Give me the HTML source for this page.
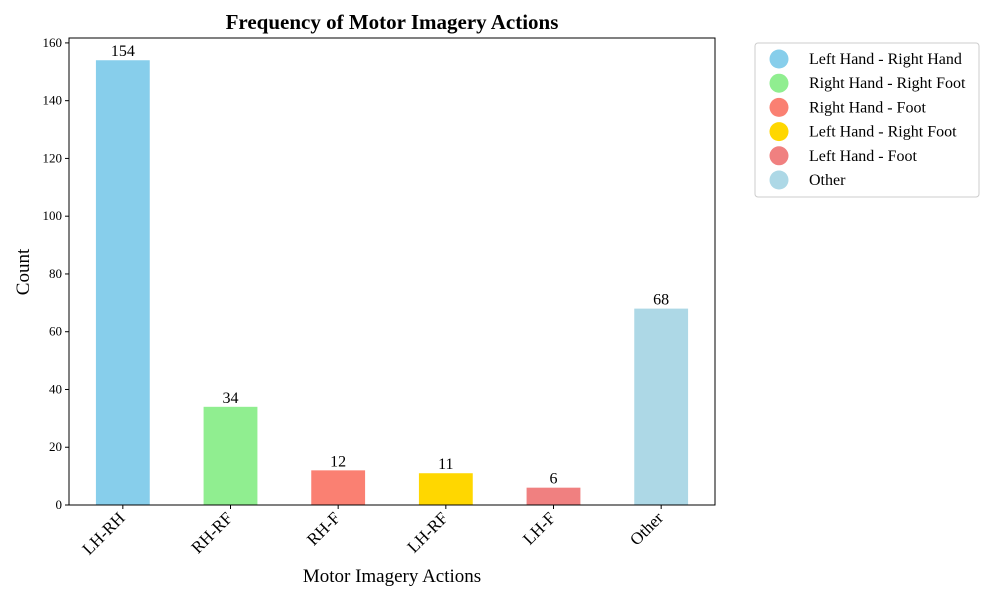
<!DOCTYPE html>
<html><head><meta charset="utf-8"><style>
body{margin:0;background:#fff;}
svg{font-family:"Liberation Serif",serif;}
</style></head><body>
<svg id="chart" width="1000" height="600" viewBox="0 0 1000 600">
<text x="392" y="29" font-size="21" font-weight="bold" text-anchor="middle">Frequency of Motor Imagery Actions</text>
<g id="bars"></g>
<g id="yticks"></g>
<g id="xticks"></g>
<rect x="69" y="38" width="646" height="467" fill="none" stroke="#000" stroke-width="1"/>
<text x="392" y="582" font-size="19" text-anchor="middle">Motor Imagery Actions</text>
<text transform="translate(29,272) rotate(-90)" font-size="19" text-anchor="middle">Count</text>
<g id="legend">
<rect x="755" y="43" width="224" height="154" rx="3" fill="#fff" stroke="#ccc"/>
</g>
</svg>
<script>
const categories=["LH-RH","RH-RF","RH-F","LH-RF","LH-F","Other"];
const counts=[154,34,12,11,6,68];
const legendLabels=["Left Hand - Right Hand","Right Hand - Right Foot","Right Hand - Foot","Left Hand - Right Foot","Left Hand - Foot","Other"];
const colors=["#87CEEB","#90EE90","#FA8072","#FFD700","#F08080","#ADD8E6"];
const yTicks=[0,20,40,60,80,100,120,140,160];
const NS="http://www.w3.org/2000/svg";
const L=69,R=715,T=38,B=505;
const ymax=Math.max(...counts)*1.05;
const yS=v=>B-(v/ymax)*(B-T);
const step=(R-L)/categories.length;
const xS=i=>L+step*(i+0.5);
function mk(t,a){const e=document.createElementNS(NS,t);for(const k in a)e.setAttribute(k,a[k]);return e;}
const gb=document.getElementById('bars'),gy=document.getElementById('yticks'),gx=document.getElementById('xticks'),gl=document.getElementById('legend');
counts.forEach((v,i)=>{
 const w=step*0.5;
 const r=mk('rect',{x:xS(i)-w/2,y:yS(v),width:w,height:B-yS(v),fill:colors[i]});
 
 
 gb.appendChild(r);
 const t=mk('text',{x:xS(i),y:yS(v)-4,'font-size':16,'text-anchor':'middle'});
 t.textContent=v;
 
 
 gb.appendChild(t);
 const tk=mk('line',{x1:xS(i),x2:xS(i),y1:B,y2:B+4,stroke:'#000'});
 
 
 gx.appendChild(tk);
 const xl=mk('text',{transform:`translate(${xS(i)+3},${B+14}) rotate(-45)`,'font-size':17,'text-anchor':'end'});
 xl.textContent=categories[i];
 
 
 gx.appendChild(xl);
});
yTicks.forEach(v=>{
 const l=mk('line',{x1:L-4,x2:L,y1:yS(v),y2:yS(v),stroke:'#000'});
 
 
 gy.appendChild(l);
 const t=mk('text',{x:L-7,y:yS(v)+4,'font-size':13,'text-anchor':'end'});
 t.textContent=v;
 
 
 gy.appendChild(t);
});
legendLabels.forEach((s,i)=>{
 const y=59+i*24.2;
 const c=mk('circle',{cx:779,cy:y,r:9.5,fill:colors[i]});
 
 
 gl.appendChild(c);
 const t=mk('text',{x:809,y:y+5,'font-size':16});
 t.textContent=s;
 
 
 gl.appendChild(t);
});
</script>
</body></html>
